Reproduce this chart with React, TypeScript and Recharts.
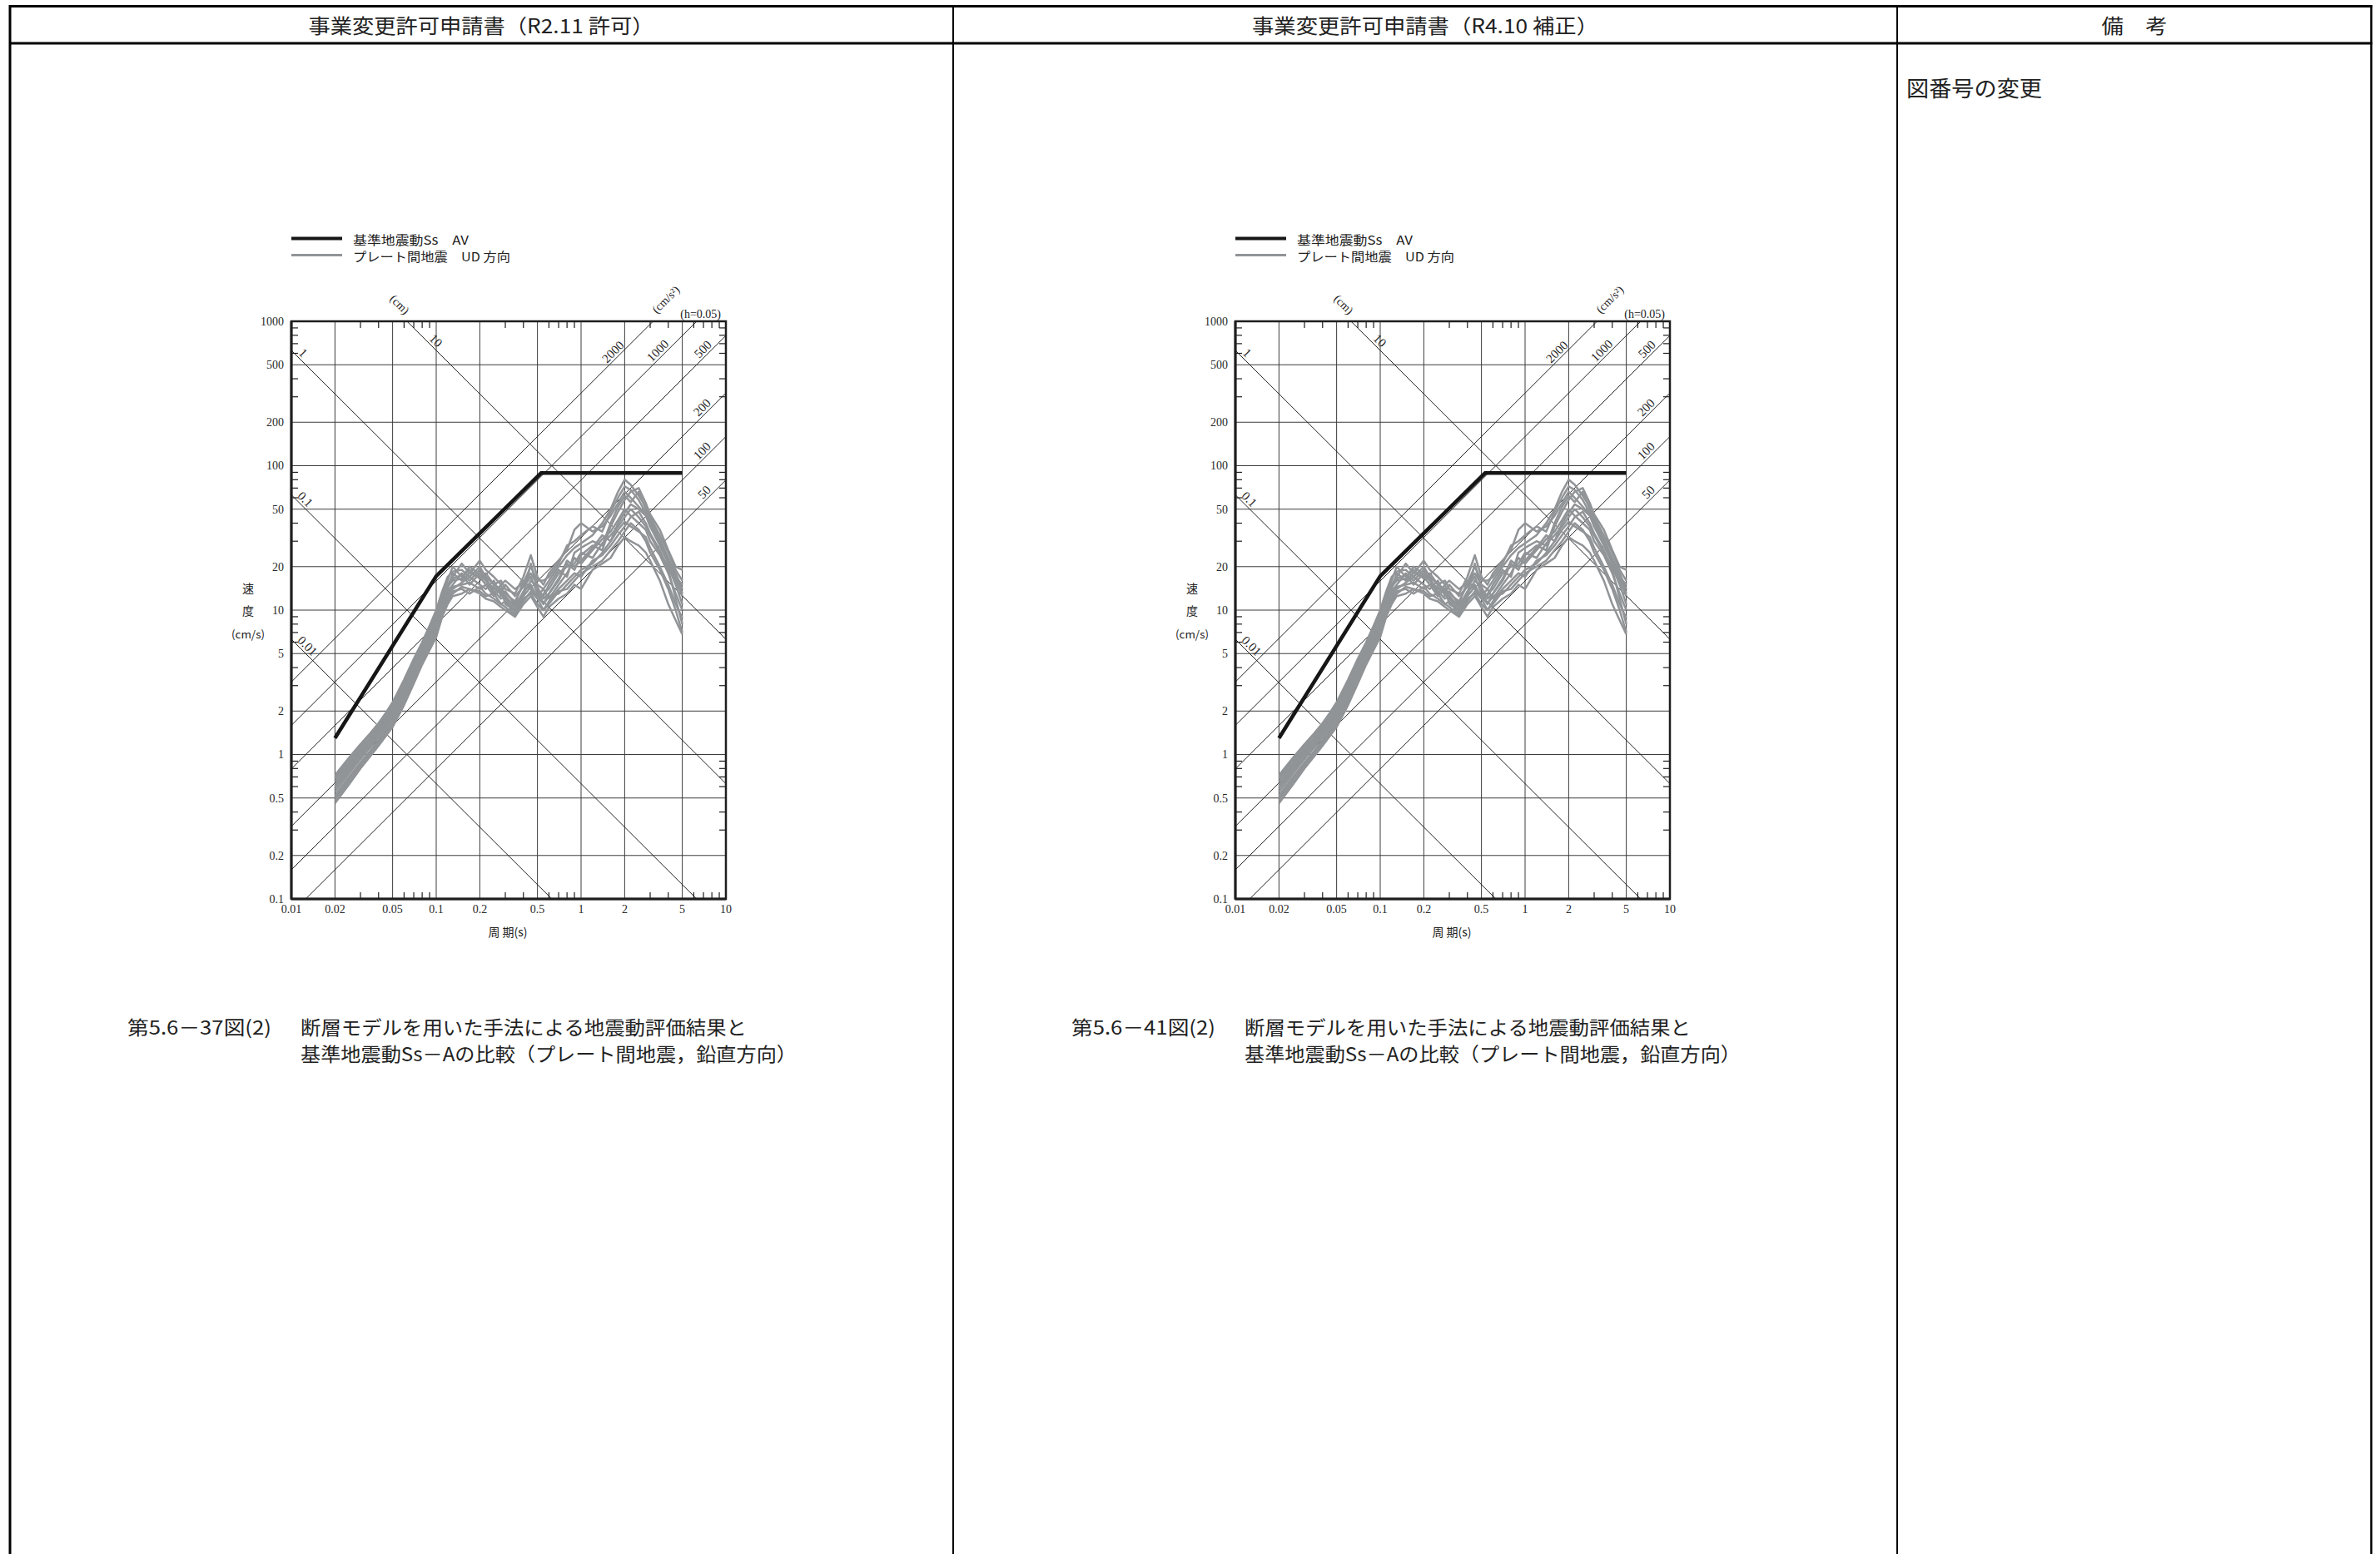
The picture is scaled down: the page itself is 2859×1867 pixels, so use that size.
import React from 'react';
import {
  ComposedChart,
  Line,
  XAxis,
  YAxis,
  CartesianGrid,
  ReferenceLine,
  ReferenceArea,
  Scatter,
} from 'recharts';

// ---------- axis definitions ----------
const xTicks = [0.01, 0.02, 0.05, 0.1, 0.2, 0.5, 1, 2, 5, 10];
const xTickLabels = ['0.01', '0.02', '0.05', '0.1', '0.2', '0.5', '1', '2', '5', '10'];
const yTicks = [0.1, 0.2, 0.5, 1, 2, 5, 10, 20, 50, 100, 200, 500, 1000];
const yTickLabels = ['0.1', '0.2', '0.5', '1', '2', '5', '10', '20', '50', '100', '200', '500', '1000'];
const xMinor = [0.03, 0.04, 0.06, 0.07, 0.08, 0.09, 0.3, 0.4, 0.6, 0.7, 0.8, 0.9, 3, 4, 6, 7, 8, 9];
const yMinor = [0.3, 0.4, 0.6, 0.7, 0.8, 0.9, 3, 4, 6, 7, 8, 9, 30, 40, 60, 70, 80, 90, 300, 400, 600, 700, 800, 900];

// tripartite guide lines
const dispValues = [0.01, 0.1, 1, 10]; // cm
const dispLabels = ['0.01', '0.1', '1', '10'];
const dispLabelT = [0.0106, 0.0106, 0.0108, 0.086];
const accValues = [50, 100, 200, 500, 1000, 2000]; // cm/s2
const accLabels = ['50', '100', '200', '500', '1000', '2000'];
const accLabelT = [8.2, 8.2, 8.2, 8.3, 4.2, 2.06];

// ---------- series ----------
const ssPeriods = [0.02, 0.1, 0.53, 5];
const ssValues = [1.3, 17.2, 89, 89];

const periods = [0.02, 0.025, 0.03, 0.035, 0.04, 0.045, 0.05, 0.06, 0.07, 0.08, 0.09, 0.1, 0.11, 0.12, 0.13, 0.15, 0.17, 0.2, 0.22, 0.25, 0.28, 0.3, 0.35, 0.4, 0.45, 0.5, 0.55, 0.6, 0.7, 0.8, 0.9, 1.0, 1.2, 1.4, 1.6, 1.8, 2.0, 2.2, 2.5, 2.8, 3.0, 3.5, 4.0, 4.5, 5.0];

const g1 = [0.72, 0.95, 1.18, 1.4, 1.65, 1.95, 2.3, 3.3, 4.6, 6.0, 7.8, 10.0, 13.5, 17, 18.5, 19, 17, 20, 17, 15, 14, 13, 11.5, 15, 18, 15, 14, 16, 20, 24, 27, 29, 33, 40, 50, 66, 80, 74, 62, 52, 44, 33, 25, 19, 16];
const g2 = [0.62, 0.82, 1.02, 1.22, 1.45, 1.7, 2.0, 2.9, 4.0, 5.4, 7.0, 9.0, 12, 15, 16.5, 17.5, 15, 18, 16, 13, 15, 12, 10, 13, 21, 14, 11, 13, 16, 21, 19, 24, 28, 26, 38, 48, 58, 66, 70, 55, 46, 36, 26, 20, 19];
const g3 = [0.46, 0.62, 0.8, 0.97, 1.15, 1.35, 1.55, 2.2, 3.1, 4.2, 5.3, 6.5, 9.0, 11, 12.5, 13, 14, 13, 12, 11.5, 10.5, 10, 9, 11, 12.5, 10.5, 9, 10.5, 12, 13, 15, 14, 19, 21, 23, 28, 32, 30, 28, 25, 22, 16, 11, 8.5, 6.8];
const g4 = [0.55, 0.74, 0.93, 1.12, 1.32, 1.55, 1.8, 2.6, 3.6, 4.9, 6.3, 8.0, 10.5, 13, 14, 15.5, 17, 15, 14, 16, 12.5, 13.5, 11, 16, 14, 12.5, 14, 12, 15, 18, 23, 21, 26, 31, 35, 42, 50, 45, 40, 36, 30, 24, 18, 13, 10];
const g5 = [0.68, 0.88, 1.1, 1.3, 1.55, 1.8, 2.15, 3.1, 4.3, 5.7, 7.4, 9.5, 13, 16, 20, 17, 19, 16.5, 18, 15, 16, 14, 13, 17, 24, 17, 15, 18, 22, 26, 36, 40, 35, 38, 45, 55, 66, 60, 52, 46, 40, 30, 22, 17, 13];
const g6 = [0.5, 0.68, 0.86, 1.04, 1.24, 1.45, 1.68, 2.4, 3.3, 4.5, 5.8, 7.2, 9.5, 12, 13.5, 14, 13, 14.5, 13, 12, 11, 11.5, 9.5, 12, 13, 11, 10, 11.5, 14, 16, 18, 17, 22, 24, 28, 33, 38, 44, 48, 40, 34, 26, 19, 12, 8];
const g7 = [0.65, 0.85, 1.06, 1.27, 1.5, 1.75, 2.05, 3.0, 4.1, 5.5, 7.2, 9.2, 12.5, 14, 18, 16, 18, 17, 15, 14.5, 13, 15, 12.5, 14.5, 17, 13, 12.5, 15, 19, 17, 25, 27, 30, 28, 40, 52, 62, 56, 66, 50, 42, 31, 23, 18, 14];
const g8 = [0.58, 0.77, 0.96, 1.16, 1.38, 1.6, 1.88, 2.7, 3.7, 5.0, 6.6, 8.4, 11, 13.5, 15, 18, 16, 19, 16.5, 13.5, 12, 12.5, 10.5, 13.5, 15, 12, 13, 14, 18, 20, 21, 25, 23, 29, 33, 38, 44, 50, 44, 38, 33, 25, 20, 15, 11];
const g9 = [0.52, 0.7, 0.88, 1.06, 1.26, 1.48, 1.72, 2.5, 3.45, 4.6, 6.0, 7.6, 10, 12.5, 14.5, 15, 15.5, 14, 15, 12.5, 14, 11, 10, 12.5, 14.5, 12.5, 11, 12.5, 13, 15, 17, 19, 21, 25, 30, 36, 41, 38, 35, 32, 27, 20, 15, 11, 8.8];
const g10 = [0.7, 0.92, 1.14, 1.36, 1.6, 1.88, 2.2, 3.2, 4.4, 5.8, 7.6, 9.8, 13, 15, 17, 21, 18, 22, 19, 17, 15, 16, 14, 15.5, 20, 16, 16, 17, 21, 28, 30, 33, 38, 35, 48, 60, 72, 68, 58, 47, 38, 28, 21, 16, 12.5];
const g11 = [0.6, 0.8, 1.0, 1.2, 1.42, 1.66, 1.95, 2.85, 3.9, 5.2, 6.8, 8.7, 11.5, 14.5, 16, 16.5, 20, 17.5, 16, 14, 13.5, 12, 11, 13, 16, 14.5, 12, 13, 16.5, 22, 20, 22, 27, 33, 30, 40, 47, 54, 50, 45, 38, 29, 22, 17, 15];
const g12 = [0.48, 0.65, 0.83, 1.0, 1.2, 1.4, 1.6, 2.3, 3.2, 4.3, 5.5, 6.9, 9.2, 11.5, 13, 14.5, 14, 13.5, 12.5, 13, 11, 10.5, 9.2, 11.5, 13.5, 12, 10, 11, 13.5, 14, 16, 18, 20, 22, 26, 30, 35, 40, 36, 30, 25, 19, 14, 10, 7];
const graySeries = [g1, g2, g3, g4, g5, g6, g7, g8, g9, g10, g11, g12];

// ---------- text ----------
const headerLeft = '事業変更許可申請書（R2.11 許可）';
const headerMid = '事業変更許可申請書（R4.10 補正）';
const headerRight = '備　考';
const remark = '図番号の変更';
const legendSs = '基準地震動Ss　AV';
const legendGray = 'プレート間地震　UD 方向';
const figNumbers = ['第5.6－37図(2)', '第5.6－41図(2)'];
const captionLine1 = '断層モデルを用いた手法による地震動評価結果と';
const captionLine2 = '基準地震動Ss－Aの比較（プレート間地震，鉛直方向）';

// ---------- derived ----------
const X_MIN = 0.01, X_MAX = 10, Y_MIN = 0.1, Y_MAX = 1000;
const TWO_PI = 2 * Math.PI;
const ssData = ssPeriods.map((t, i) => ({ t, v: ssValues[i] }));
const grayData = graySeries.map((s) => periods.map((t, i) => ({ t, v: s[i] })));

const dispSegment = (d: number) => {
  const t0 = Math.max(X_MIN, (TWO_PI * d) / Y_MAX);
  const t1 = Math.min(X_MAX, (TWO_PI * d) / Y_MIN);
  return [{ x: t0, y: (TWO_PI * d) / t0 }, { x: t1, y: (TWO_PI * d) / t1 }];
};
const accSegment = (a: number) => {
  const t0 = Math.max(X_MIN, (Y_MIN * TWO_PI) / a);
  const t1 = Math.min(X_MAX, (Y_MAX * TWO_PI) / a);
  return [{ x: t0, y: (a * t0) / TWO_PI }, { x: t1, y: (a * t1) / TWO_PI }];
};
const diagLabelData = [
  ...dispValues.map((d, i) => ({ t: dispLabelT[i], v: (TWO_PI * d) / dispLabelT[i], text: dispLabels[i], kind: 'd' })),
  ...accValues.map((a, i) => ({ t: accLabelT[i], v: (a * accLabelT[i]) / TWO_PI, text: accLabels[i], kind: 'a' })),
];
const minorBottom = xMinor.map((t) => ({ t, v: Y_MIN }));
const minorTop = xMinor.map((t) => ({ t, v: Y_MAX }));
const minorLeft = yMinor.map((v) => ({ t: X_MIN, v }));
const minorRight = yMinor.map((v) => ({ t: X_MAX, v }));

const SERIF = "'Liberation Serif', 'DejaVu Serif', serif";
const CJK = "'Noto Sans CJK JP', 'Noto Sans', sans-serif";
const INK = '#1e1e1e';
const GRAY = '#919497';
const TICK = 8;

const tickShape = (dxs: number, dys: number) => (props: any) => {
  const { cx, cy } = props;
  if (cx == null || cy == null) return <g />;
  return <line x1={cx} y1={cy} x2={cx + dxs} y2={cy + dys} stroke={INK} strokeWidth={1.2} />;
};

const DiagLabel = (props: any) => {
  const { cx, cy, payload } = props;
  if (cx == null || cy == null || !payload) return <g />;
  const isD = payload.kind === 'd';
  return (
    <text
      x={cx}
      y={cy}
      dy={-3}
      transform={`rotate(${isD ? 45 : -45} ${cx} ${cy})`}
      textAnchor={isD ? 'start' : 'end'}
      fontFamily={SERIF}
      fontSize={15}
      fill={INK}
    >
      {payload.text}
    </text>
  );
};

const fmtX = (v: number) => {
  const i = xTicks.findIndex((x) => Math.abs(x - v) < 1e-9);
  return i >= 0 ? xTickLabels[i] : '';
};
const fmtY = (v: number) => {
  const i = yTicks.findIndex((y) => Math.abs(y - v) < 1e-9);
  return i >= 0 ? yTickLabels[i] : '';
};

const Spectrum = ({ left }: { left: number }) => (
  <div style={{ position: 'absolute', left, top: 366 }}>
    <ComposedChart width={612} height={784} margin={{ top: 20, right: 20, bottom: 20, left: 20 }}>
      <CartesianGrid stroke="#3c3c3c" strokeWidth={1} />
      <XAxis
        type="number"
        dataKey="t"
        scale="log"
        domain={[X_MIN, X_MAX]}
        allowDataOverflow
        ticks={xTicks}
        interval={0}
        tickFormatter={fmtX}
        tickLine={false}
        tickSize={0}
        tickMargin={7}
        height={50}
        axisLine={{ stroke: INK, strokeWidth: 3 }}
        tick={{ fontFamily: SERIF, fontSize: 14, fill: '#2a2a2a' }}
      />
      <YAxis
        type="number"
        dataKey="v"
        scale="log"
        domain={[Y_MIN, Y_MAX]}
        allowDataOverflow
        ticks={yTicks}
        interval={0}
        tickFormatter={fmtY}
        tickLine={false}
        tickSize={0}
        tickMargin={9}
        width={50}
        axisLine={{ stroke: INK, strokeWidth: 3 }}
        tick={{ fontFamily: SERIF, fontSize: 14, fill: '#2a2a2a' }}
      />
      {dispValues.map((d) => (
        <ReferenceLine key={'d' + d} segment={dispSegment(d)} stroke="#222" strokeWidth={1} ifOverflow="hidden" />
      ))}
      {accValues.map((a) => (
        <ReferenceLine key={'a' + a} segment={accSegment(a)} stroke="#222" strokeWidth={1} ifOverflow="hidden" />
      ))}
      <Scatter data={minorBottom} shape={tickShape(0, -TICK)} isAnimationActive={false} />
      <Scatter data={minorTop} shape={tickShape(0, TICK)} isAnimationActive={false} />
      <Scatter data={minorLeft} shape={tickShape(TICK, 0)} isAnimationActive={false} />
      <Scatter data={minorRight} shape={tickShape(-TICK, 0)} isAnimationActive={false} />
      {grayData.map((d, i) => (
        <Line
          key={'g' + i}
          data={d}
          dataKey="v"
          type="linear"
          stroke={GRAY}
          strokeWidth={2.5}
          strokeLinejoin="round"
          dot={false}
          activeDot={false}
          isAnimationActive={false}
        />
      ))}
      <Line
        data={ssData}
        dataKey="v"
        type="linear"
        stroke="#161616"
        strokeWidth={4.5}
        dot={false}
        activeDot={false}
        isAnimationActive={false}
      />
      <Scatter data={diagLabelData} shape={DiagLabel} isAnimationActive={false} />
      <ReferenceArea
        x1={X_MIN}
        x2={X_MAX}
        y1={Y_MIN}
        y2={Y_MAX}
        fill="none"
        stroke={INK}
        strokeWidth={2.5}
        ifOverflow="visible"
      />
    </ComposedChart>
  </div>
);

const PanelText = ({ dx, fig }: { dx: number; fig: string }) => (
  <g>
    {/* legend */}
    <line x1={dx + 350} y1={286.5} x2={dx + 411} y2={286.5} stroke="#161616" strokeWidth={4} />
    <line x1={dx + 350} y1={306.5} x2={dx + 411} y2={306.5} stroke={GRAY} strokeWidth={3} />
    <text x={dx + 424} y={287} dominantBaseline="central" fontFamily={CJK} fontSize={15} fill="#222" textLength={139} lengthAdjust="spacingAndGlyphs">{legendSs}</text>
    <text x={dx + 424} y={307} dominantBaseline="central" fontFamily={CJK} fontSize={15} fill="#222" textLength={189} lengthAdjust="spacingAndGlyphs">{legendGray}</text>
    {/* unit labels above plot */}
    <text x={dx + 480} y={366} textAnchor="middle" dominantBaseline="central" transform={`rotate(45 ${dx + 480} 366)`} fontFamily={SERIF} fontSize={14} fill="#222">(cm)</text>
    <text x={dx + 800} y={360} textAnchor="middle" dominantBaseline="central" transform={`rotate(-45 ${dx + 800} 360)`} fontFamily={SERIF} fontSize={14} fill="#222">(cm/s²)</text>
    <text x={dx + 866} y={382} textAnchor="end" fontFamily={SERIF} fontSize={14} fill="#222">(h=0.05)</text>
    {/* y title */}
    <text x={dx + 298} y={706} textAnchor="middle" dominantBaseline="central" fontFamily={CJK} fontSize={14} fill="#222">速</text>
    <text x={dx + 298} y={733} textAnchor="middle" dominantBaseline="central" fontFamily={CJK} fontSize={14} fill="#222">度</text>
    <text x={dx + 298} y={761} textAnchor="middle" dominantBaseline="central" fontFamily={CJK} fontSize={13} fill="#222" textLength={40} lengthAdjust="spacingAndGlyphs">(cm/s)</text>
    {/* x title */}
    <text x={dx + 610} y={1119} textAnchor="middle" dominantBaseline="central" fontFamily={CJK} fontSize={14} fill="#222">周 期(s)</text>
    {/* caption */}
    <text x={dx + 153} y={1233} dominantBaseline="central" fontFamily={CJK} fontSize={23} fill="#222" textLength={173} lengthAdjust="spacingAndGlyphs">{fig}</text>
    <text x={dx + 361} y={1233} dominantBaseline="central" fontFamily={CJK} fontSize={23} fill="#222" textLength={536} lengthAdjust="spacingAndGlyphs">{captionLine1}</text>
    <text x={dx + 361} y={1265} dominantBaseline="central" fontFamily={CJK} fontSize={23} fill="#222" textLength={596} lengthAdjust="spacingAndGlyphs">{captionLine2}</text>
  </g>
);

export default function App() {
  return (
    <div style={{ position: 'relative', width: 2859, height: 1867, overflow: 'hidden', background: '#fff' }}>
      <style>{'body{margin:0;background:#fff}'}</style>
      <svg width={2859} height={1867} style={{ position: 'absolute', left: 0, top: 0 }}>
        {/* table frame */}
        <line x1={11} y1={7.5} x2={2850} y2={7.5} stroke="#000" strokeWidth={3} />
        <line x1={11} y1={52} x2={2850} y2={52} stroke="#000" strokeWidth={3} />
        <line x1={12} y1={6} x2={12} y2={1867} stroke="#000" strokeWidth={3} />
        <line x1={1145} y1={6} x2={1145} y2={1867} stroke="#000" strokeWidth={2} />
        <line x1={2279} y1={6} x2={2279} y2={1867} stroke="#000" strokeWidth={2} />
        <line x1={2848.5} y1={6} x2={2848.5} y2={1867} stroke="#000" strokeWidth={2.5} />
        {/* header */}
        <text x={578} y={29} textAnchor="middle" dominantBaseline="central" fontFamily={CJK} fontSize={24} fill="#222" textLength={415} lengthAdjust="spacingAndGlyphs">{headerLeft}</text>
        <text x={1712} y={29} textAnchor="middle" dominantBaseline="central" fontFamily={CJK} fontSize={24} fill="#222" textLength={416} lengthAdjust="spacingAndGlyphs">{headerMid}</text>
        <text x={2564} y={29} textAnchor="middle" dominantBaseline="central" fontFamily={CJK} fontSize={24} fill="#222" textLength={79} lengthAdjust="spacingAndGlyphs">{headerRight}</text>
        <text x={2290} y={104} dominantBaseline="central" fontFamily={CJK} fontSize={26} fill="#222" textLength={163} lengthAdjust="spacingAndGlyphs">{remark}</text>
        <PanelText dx={0} fig={figNumbers[0]} />
        <PanelText dx={1134} fig={figNumbers[1]} />
      </svg>
      <Spectrum left={280} />
      <Spectrum left={1414} />
    </div>
  );
}
